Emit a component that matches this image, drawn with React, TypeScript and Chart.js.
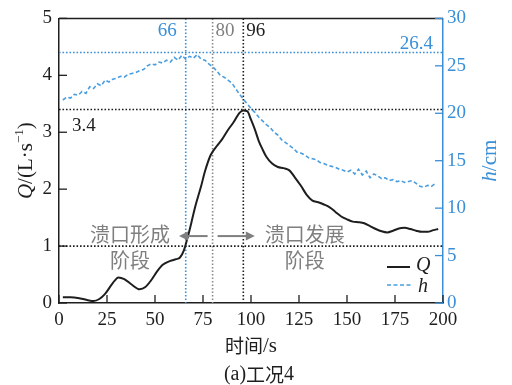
import { useEffect, useRef } from 'react';
import { Chart, registerables } from 'chart.js';

Chart.register(...registerables);

// ---------- data ----------
const qTime = [2, 6, 11, 15, 18, 21, 24, 28, 31, 34, 38, 42, 45, 48, 51, 54, 58, 61, 63, 65, 67, 69, 71, 74, 76, 79, 82, 85, 88, 91, 94, 96, 98, 100, 102, 104, 106, 108, 111, 114, 117, 120, 123, 126, 129, 132, 135, 138, 141, 144, 147, 150, 153, 156, 159, 162, 165, 168, 171, 174, 177, 180, 183, 186, 189, 192, 195, 197.5];
const qValue = [0.10, 0.10, 0.08, 0.05, 0.035, 0.07, 0.16, 0.35, 0.45, 0.42, 0.32, 0.24, 0.28, 0.40, 0.55, 0.67, 0.74, 0.77, 0.80, 0.92, 1.15, 1.42, 1.70, 2.05, 2.31, 2.60, 2.75, 2.88, 3.04, 3.18, 3.34, 3.38, 3.37, 3.22, 3.05, 2.85, 2.70, 2.57, 2.45, 2.39, 2.37, 2.33, 2.20, 2.06, 1.90, 1.80, 1.77, 1.73, 1.68, 1.60, 1.52, 1.47, 1.43, 1.42, 1.40, 1.35, 1.30, 1.26, 1.24, 1.27, 1.31, 1.32, 1.30, 1.27, 1.25, 1.25, 1.28, 1.30];

const hTime = [2, 4, 6, 8, 10, 12, 14, 16, 18, 20, 22, 24, 26, 28, 30, 32, 34, 36, 38, 40, 42, 44, 46, 48, 50, 52, 54, 56, 58, 60, 62, 64, 66, 68, 70, 72, 74, 76, 78, 80, 82, 84, 86, 88, 90, 92, 94, 96, 98, 100, 102, 104, 106, 108, 110, 112, 114, 116, 118, 120, 122, 124, 126, 128, 130, 132, 134, 136, 138, 140, 142, 144, 146, 148, 150, 152, 154, 156, 158, 160, 162, 164, 166, 168, 170, 172, 174, 176, 178, 180, 182, 184, 186, 188, 190, 192, 194, 196];
const hValue = [21.4, 21.7, 21.6, 22.0, 21.9, 22.3, 22.1, 22.8, 22.6, 23.1, 22.9, 23.5, 23.3, 23.6, 23.7, 23.9, 23.8, 24.1, 24.2, 24.3, 24.5, 24.6, 25.0, 25.2, 25.1, 25.4, 25.3, 25.6, 25.4, 25.9, 25.6, 26.1, 25.7, 26.0, 25.8, 26.2, 25.7, 25.6, 25.2, 24.9, 24.5, 24.0, 23.8, 23.5, 23.2, 22.6, 22.0, 21.5, 21.0, 20.5, 20.1, 19.6, 19.2, 18.8, 18.5, 18.0, 17.7, 17.2, 16.9, 16.6, 16.3, 15.9, 15.8, 15.6, 15.3, 15.2, 15.1, 14.8, 14.7, 14.5, 14.4, 14.3, 14.1, 14.0, 13.8, 14.0, 13.6, 14.1, 13.5, 13.9, 13.2, 13.6, 13.4, 13.1, 13.2, 12.9, 13.0, 12.8, 12.9, 12.7, 12.8, 12.9, 12.6, 12.3, 12.2, 12.4, 12.3, 12.6];

const formationTime = 66;
const transitionTime = 80;
const peakTime = 96;
const qPeak = 3.4;
const qThreshold = 1;
const hPeak = 26.4;

const xTitle = ['时间', '/s'];
const caption = ['(a)', '工况', '4'];
const stageLeft = ['溃口形成', '阶段'];
const stageRight = ['溃口发展', '阶段'];

// ---------- styles ----------
const SERIF = '"Liberation Serif", "Times New Roman", serif';
const CJK = '"Noto Sans CJK SC", sans-serif';
const BLUE = '#3a8fd6';
const HBLUE = '#4a9ee0';
const GRAY = '#7f7f7f';
const INK = '#1e1e1e';

type Part = { text: string; font: string; color: string; dy?: number };

function drawRich(ctx: CanvasRenderingContext2D, parts: Part[], x: number, y: number, align: 'left' | 'center' | 'right') {
  ctx.textBaseline = 'middle';
  ctx.textAlign = 'left';
  let w = 0;
  for (const p of parts) {
    ctx.font = p.font;
    w += ctx.measureText(p.text).width;
  }
  let cx = align === 'center' ? x - w / 2 : align === 'right' ? x - w : x;
  for (const p of parts) {
    ctx.font = p.font;
    ctx.fillStyle = p.color;
    ctx.fillText(p.text, cx, y + (p.dy || 0));
    cx += ctx.measureText(p.text).width;
  }
}

function arrow(ctx: CanvasRenderingContext2D, x0: number, x1: number, y: number) {
  const dir = Math.sign(x1 - x0);
  ctx.beginPath();
  ctx.moveTo(x0, y);
  ctx.lineTo(x1 - dir * 6, y);
  ctx.stroke();
  ctx.beginPath();
  ctx.moveTo(x1, y);
  ctx.lineTo(x1 - dir * 9, y - 4.5);
  ctx.lineTo(x1 - dir * 9, y + 4.5);
  ctx.closePath();
  ctx.fill();
}

const overlay = {
  id: 'overlay',
  beforeDatasetsDraw(chart: any) {
    const { ctx, chartArea: a, scales } = chart;
    const { x, y, y1 } = scales;
    ctx.save();
    ctx.lineWidth = 1.6;
    ctx.setLineDash([1.6, 1.9]);
    const vline = (t: number, c: string) => {
      const px = x.getPixelForValue(t);
      ctx.strokeStyle = c;
      ctx.beginPath();
      ctx.moveTo(px, a.top);
      ctx.lineTo(px, a.bottom);
      ctx.stroke();
    };
    const hline = (py: number, c: string) => {
      ctx.strokeStyle = c;
      ctx.beginPath();
      ctx.moveTo(a.left, py);
      ctx.lineTo(a.right, py);
      ctx.stroke();
    };
    vline(formationTime, BLUE);
    vline(transitionTime, '#8c8c8c');
    vline(peakTime, INK);
    hline(y.getPixelForValue(qPeak), INK);
    hline(y.getPixelForValue(qThreshold), INK);
    hline(y1.getPixelForValue(hPeak), BLUE);
    ctx.restore();
  },
  afterDraw(chart: any) {
    const { ctx, chartArea: a, scales } = chart;
    const { x, y, y1 } = scales;
    ctx.save();
    // top border
    ctx.strokeStyle = INK;
    ctx.lineWidth = 1.5;
    ctx.beginPath();
    ctx.moveTo(a.left, a.top);
    ctx.lineTo(a.right, a.top);
    ctx.stroke();
    // inward ticks
    const TL = 8;
    ctx.lineWidth = 1.3;
    for (const t of x.ticks) {
      const px = x.getPixelForValue(t.value);
      ctx.beginPath();
      ctx.moveTo(px, a.bottom);
      ctx.lineTo(px, a.bottom - TL);
      ctx.stroke();
    }
    for (const t of y.ticks) {
      const py = y.getPixelForValue(t.value);
      ctx.beginPath();
      ctx.moveTo(a.left, py);
      ctx.lineTo(a.left + TL, py);
      ctx.stroke();
    }
    ctx.strokeStyle = BLUE;
    for (const t of y1.ticks) {
      const py = y1.getPixelForValue(t.value);
      ctx.beginPath();
      ctx.moveTo(a.right, py);
      ctx.lineTo(a.right - TL, py);
      ctx.stroke();
    }

    const f = (s: number, fam: string, italic = false) => `${italic ? 'italic ' : ''}${s}px ${fam}`;

    // value labels
    drawRich(ctx, [{ text: String(formationTime), font: f(19, SERIF), color: BLUE }], x.getPixelForValue(formationTime) - 9, a.top + 13, 'right');
    drawRich(ctx, [{ text: String(transitionTime), font: f(19, SERIF), color: GRAY }], x.getPixelForValue(transitionTime) + 3, a.top + 13, 'left');
    drawRich(ctx, [{ text: String(peakTime), font: f(19, SERIF), color: INK }], x.getPixelForValue(peakTime) + 3, a.top + 13, 'left');
    drawRich(ctx, [{ text: String(qPeak), font: f(19, SERIF), color: INK }], a.left + 13, y.getPixelForValue(qPeak) + 17, 'left');
    drawRich(ctx, [{ text: String(hPeak), font: f(19, SERIF), color: BLUE }], a.right - 10, y1.getPixelForValue(hPeak) - 9, 'right');

    // stage labels
    const sy = y.getPixelForValue(qThreshold);
    drawRich(ctx, [{ text: stageLeft[0], font: f(20, CJK), color: GRAY }], x.getPixelForValue(37), sy - 12, 'center');
    drawRich(ctx, [{ text: stageLeft[1], font: f(20, CJK), color: GRAY }], x.getPixelForValue(37), sy + 14, 'center');
    drawRich(ctx, [{ text: stageRight[0], font: f(20, CJK), color: GRAY }], x.getPixelForValue(128), sy - 12, 'center');
    drawRich(ctx, [{ text: stageRight[1], font: f(20, CJK), color: GRAY }], x.getPixelForValue(128), sy + 14, 'center');

    // arrows
    ctx.strokeStyle = GRAY;
    ctx.fillStyle = GRAY;
    ctx.lineWidth = 2;
    const ay = sy - 10;
    arrow(ctx, x.getPixelForValue(transitionTime) - 5, x.getPixelForValue(62.5), ay);
    arrow(ctx, x.getPixelForValue(transitionTime) + 5, x.getPixelForValue(102), ay);

    // legend
    ctx.lineWidth = 2;
    ctx.strokeStyle = INK;
    ctx.beginPath();
    ctx.moveTo(387, 267);
    ctx.lineTo(410, 267);
    ctx.stroke();
    drawRich(ctx, [{ text: 'Q', font: f(20, SERIF, true), color: INK }], 416, 266, 'left');
    ctx.lineWidth = 1.6;
    ctx.strokeStyle = HBLUE;
    ctx.setLineDash([4, 2.5]);
    ctx.beginPath();
    ctx.moveTo(387, 285);
    ctx.lineTo(411, 285);
    ctx.stroke();
    ctx.setLineDash([]);
    drawRich(ctx, [{ text: 'h', font: f(20, SERIF, true), color: INK }], 418, 287, 'left');

    // left axis title
    const cy = (a.top + a.bottom) / 2;
    ctx.save();
    ctx.translate(26, cy);
    ctx.rotate(-Math.PI / 2);
    drawRich(ctx, [
      { text: 'Q', font: f(21, SERIF, true), color: INK },
      { text: '/(L·s', font: f(21, SERIF), color: INK },
      { text: '−1', font: f(13, SERIF), color: INK, dy: -6 },
      { text: ')', font: f(21, SERIF), color: INK },
    ], 0, 0, 'center');
    ctx.restore();

    // right axis title
    ctx.save();
    ctx.translate(490, cy);
    ctx.rotate(-Math.PI / 2);
    drawRich(ctx, [
      { text: 'h', font: f(21, SERIF, true), color: BLUE },
      { text: '/cm', font: f(21, SERIF), color: BLUE },
    ], 0, 0, 'center');
    ctx.restore();

    // x title
    drawRich(ctx, [
      { text: xTitle[0], font: f(19, CJK), color: INK },
      { text: xTitle[1], font: f(21, SERIF), color: INK },
    ], (a.left + a.right) / 2, 346, 'center');

    // caption
    drawRich(ctx, [
      { text: caption[0], font: f(20, SERIF), color: INK },
      { text: caption[1], font: f(19, CJK), color: INK },
      { text: caption[2], font: f(20, SERIF), color: INK },
    ], 259, 375, 'center');
    ctx.restore();
  },
};

export default function App() {
  const ref = useRef<HTMLCanvasElement | null>(null);
  useEffect(() => {
    if (!ref.current) return;
    const tickFont = { family: SERIF, size: 19 };
    const chart = new Chart(ref.current, {
      type: 'line',
      data: {
        datasets: [
          {
            label: 'Q',
            data: qTime.map((t, i) => ({ x: t, y: qValue[i] })),
            yAxisID: 'y',
            borderColor: INK,
            borderWidth: 2,
            pointRadius: 0,
            cubicInterpolationMode: 'monotone',
            fill: false,
          },
          {
            label: 'h',
            data: hTime.map((t, i) => ({ x: t, y: hValue[i] })),
            yAxisID: 'y1',
            borderColor: HBLUE,
            borderWidth: 1.6,
            borderDash: [4, 2.5],
            pointRadius: 0,
            tension: 0,
            fill: false,
          },
        ],
      },
      options: {
        responsive: false,
        animation: false,
        layout: { padding: { top: 16, left: 0, right: 0, bottom: 0 } },
        plugins: { legend: { display: false }, tooltip: { enabled: false } },
        scales: {
          x: {
            type: 'linear',
            min: 0,
            max: 200,
            grid: { display: false, drawTicks: false },
            border: { display: true, color: INK, width: 1.5 },
            ticks: { stepSize: 25, color: INK, font: tickFont, padding: 6, maxRotation: 0 },
            afterFit: (s: any) => { s.height = 82; },
          },
          y: {
            position: 'left',
            min: 0,
            max: 5,
            grid: { display: false, drawTicks: false },
            border: { display: true, color: INK, width: 1.5 },
            ticks: { stepSize: 1, color: INK, font: tickFont, padding: 7 },
            afterFit: (s: any) => { s.width = 59; },
          },
          y1: {
            position: 'right',
            min: 0,
            max: 30,
            grid: { display: false, drawTicks: false },
            border: { display: true, color: BLUE, width: 1.5 },
            ticks: { stepSize: 5, color: BLUE, font: tickFont, padding: 4 },
            afterFit: (s: any) => { s.width = 69; },
          },
        },
      },
      plugins: [overlay],
    } as any);
    return () => chart.destroy();
  }, []);
  return (
    <div style={{ position: 'absolute', left: 0, top: 0, width: 512, height: 385, background: '#fff' }}>
      <canvas ref={ref} width={512} height={385} style={{ display: 'block' }} />
    </div>
  );
}
